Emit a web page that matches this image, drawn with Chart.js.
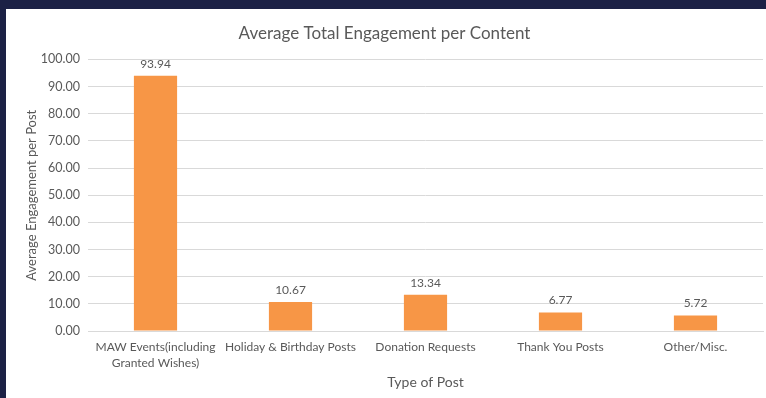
<!DOCTYPE html>
<html>
<head>
<meta charset="utf-8">
<script src="https://cdn.jsdelivr.net/npm/chart.js@4"></script>
<style>
  html, body { margin: 0; padding: 0; }
  body { width: 766px; height: 398px; background: #1c2145; position: relative; overflow: hidden; }
  #wrap { position: absolute; left: 6px; top: 9px; width: 760px; height: 389px; background: #fff; }
</style>
</head>
<body>
<div id="wrap"><canvas id="chart"></canvas></div>
<script>
const categories = [
  ["MAW Events(including", "Granted Wishes)"],
  "Holiday & Birthday Posts",
  "Donation Requests",
  "Thank You Posts",
  "Other/Misc.",
];
const avgEngagement = [93.94, 10.67, 13.34, 6.77, 5.72];

const textColor = "#595959";
const font = "Lato, 'Open Sans', sans-serif";

// draws the value above each bar
const valueLabels = {
  id: "valueLabels",
  afterDatasetsDraw(chart) {
    const c = chart.ctx;
    const meta = chart.getDatasetMeta(0);
    c.save();
    c.font = "12px " + font;
    c.fillStyle = textColor;
    c.textAlign = "center";
    c.textBaseline = "bottom";
    meta.data.forEach((bar, i) => {
      c.fillText(avgEngagement[i].toFixed(2), bar.x, bar.y - 6);
    });
    c.restore();
  },
};

const ctx = document.getElementById("chart").getContext("2d");

const chart = new Chart(ctx, {
  type: "bar",
  data: {
    labels: categories,
    datasets: [{
      data: avgEngagement,
      backgroundColor: "#f79646",
      barPercentage: 1,
      categoryPercentage: 0.32,
    }],
  },
  options: {
    responsive: true,
    maintainAspectRatio: false,
    animation: false,
    devicePixelRatio: 1,
    layout: { padding: { left: 0, right: 3, top: 0, bottom: 0 } },
    plugins: {
      legend: { display: false },
      tooltip: { enabled: false },
      title: {
        display: true,
        text: "Average Total Engagement per Content",
        color: textColor,
        font: { family: font, size: 17, weight: "normal" },
        padding: { top: 14, bottom: 16 },
      },
    },
    scales: {
      x: {
        grid: { display: false, drawTicks: false },
        border: { display: true, color: "#d9d9d9" },
        ticks: {
          color: textColor,
          font: { family: font, size: 12, lineHeight: 1.33 },
          padding: 8,
          maxRotation: 0,
          autoSkip: false,
        },
        title: {
          display: true,
          text: "Type of Post",
          color: textColor,
          font: { family: font, size: 14 },
          padding: { top: 0, bottom: 7 },
        },
        afterFit(scale) { scale.height = 67; },
      },
      y: {
        min: 0,
        max: 100,
        grid: { color: "#d9d9d9", drawTicks: false },
        border: { display: false },
        ticks: {
          stepSize: 10,
          color: textColor,
          font: { family: font, size: 12.5 },
          padding: 8,
          callback: (v) => v.toFixed(2),
        },
        title: {
          display: true,
          text: "Average Engagement per Post",
          color: textColor,
          font: { family: font, size: 13 },
          padding: { top: 18, bottom: 0 },
        },
        afterFit(scale) { scale.width = 82; },
      },
    },
  },
  plugins: [valueLabels],
});
</script>
</body>
</html>
